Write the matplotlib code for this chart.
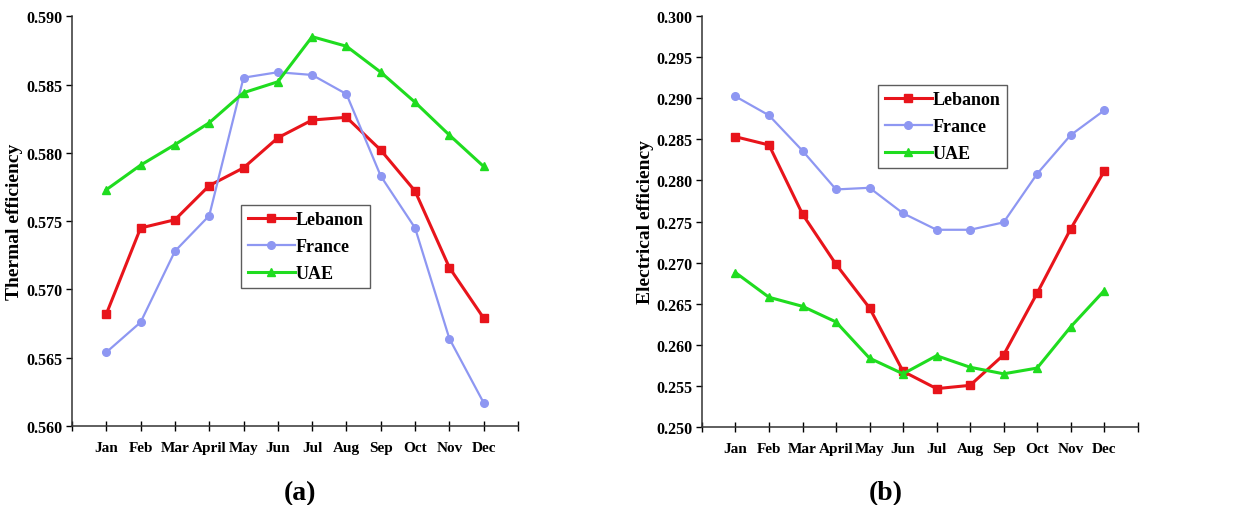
import matplotlib.pyplot as plt

months = ["Jan", "Feb", "Mar", "April", "May", "Jun", "Jul", "Aug", "Sep", "Oct", "Nov", "Dec"]

# (a) thermal efficiency
thermal_lebanon = [0.5682, 0.5745, 0.5751, 0.5776, 0.5789, 0.5811, 0.5824, 0.5826, 0.5802, 0.5772, 0.5716, 0.5679]
thermal_france = [0.5654, 0.5676, 0.5728, 0.5754, 0.5855, 0.5859, 0.5857, 0.5843, 0.5783, 0.5745, 0.5664, 0.5617]
thermal_uae = [0.5773, 0.5791, 0.5806, 0.5822, 0.5844, 0.5852, 0.5885, 0.5878, 0.5859, 0.5837, 0.5813, 0.5790]

# (b) electrical efficiency
elec_lebanon = [0.2853, 0.2843, 0.2759, 0.2698, 0.2645, 0.2568, 0.2547, 0.2551, 0.2588, 0.2663, 0.2741, 0.2811]
elec_france = [0.2902, 0.2879, 0.2836, 0.2789, 0.2791, 0.2760, 0.2740, 0.2740, 0.2749, 0.2808, 0.2855, 0.2885]
elec_uae = [0.2688, 0.2658, 0.2647, 0.2628, 0.2584, 0.2565, 0.2587, 0.2573, 0.2565, 0.2572, 0.2622, 0.2666]

thermal_ticks = [0.560, 0.565, 0.570, 0.575, 0.580, 0.585, 0.590]
elec_ticks = [0.250, 0.255, 0.260, 0.265, 0.270, 0.275, 0.280, 0.285, 0.290, 0.295, 0.300]

plt.rcParams["font.family"] = ["Liberation Serif", "DejaVu Serif"]
plt.rcParams["font.weight"] = "bold"

RED = "#e8141b"
BLUE = "#8e97f2"
GREEN = "#1fdc1f"


def draw(ax, leb, fra, uae, yticks, ylabel, legend_loc, label_x):
    x = list(range(1, len(months) + 1))
    ax.plot(x, leb, color=RED, lw=2.2, marker="s", ms=5.5, label="Lebanon")
    ax.plot(x, fra, color=BLUE, lw=1.6, marker="o", ms=5.5, label="France")
    ax.plot(x, uae, color=GREEN, lw=2.2, marker="^", ms=6, label="UAE")
    ax.set_xlim(0, 13)
    ax.set_ylim(yticks[0], yticks[-1])
    ax.set_xticks(range(0, 14))
    ax.set_xticklabels([""] + months + [""], fontsize=11, fontweight="bold")
    ax.set_yticks(yticks)
    ax.set_yticklabels([f"{t:.3f}" for t in yticks], fontsize=11.5, fontweight="bold")
    ax.tick_params(axis="x", direction="inout", length=7, width=1, pad=7)
    ax.tick_params(axis="y", direction="out", length=4, width=1, pad=3)
    for s in ("top", "right"):
        ax.spines[s].set_visible(False)
    for s in ("left", "bottom"):
        ax.spines[s].set_linewidth(1.1)
        ax.spines[s].set_color("#333333")
    ax.set_ylabel(ylabel, fontsize=14, fontweight="bold")
    ax.yaxis.set_label_coords(label_x, 0.5)
    leg = ax.legend(loc="upper left", bbox_to_anchor=legend_loc, fontsize=13,
                    frameon=True, fancybox=False, edgecolor="#333333",
                    handlelength=2.6, handletextpad=0.05, borderpad=0.35,
                    labelspacing=0.55, borderaxespad=0)
    leg.get_frame().set_linewidth(1.0)
    for t in leg.get_texts():
        t.set_fontweight("bold")


fig = plt.figure(figsize=(12.33, 5.06), dpi=100)
ax1 = fig.add_axes([0.0584, 0.156, 0.3617, 0.810])
ax2 = fig.add_axes([0.5693, 0.1535, 0.3534, 0.8134])

draw(ax1, thermal_lebanon, thermal_france, thermal_uae, thermal_ticks,
     "Thermal efficiency", (0.380, 0.540), -0.11)
draw(ax2, elec_lebanon, elec_france, elec_uae, elec_ticks,
     "Electrical efficiency", (0.405, 0.832), -0.11)

fig.text(0.243, 0.012, "(a)", fontsize=20, fontweight="bold", ha="center")
fig.text(0.718, 0.012, "(b)", fontsize=20, fontweight="bold", ha="center")

fig.savefig("out.png", dpi=100)
